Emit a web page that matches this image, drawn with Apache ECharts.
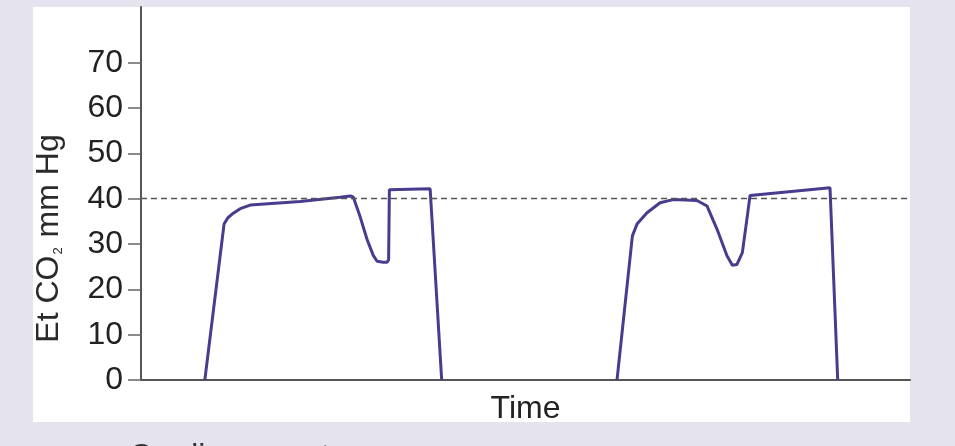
<!DOCTYPE html>
<html lang="en">
<head>
	<meta charset="UTF-8">
	<title>Et CO2</title>
	<script src="https://cdn.jsdelivr.net/npm/echarts@6/dist/echarts.min.js"></script>
	<style>
		html,body{margin:0;padding:0;background:#e4e3ee;}
		#chart{width:955px;height:446px;}
	</style>
</head>
<body>
<div id="chart"></div>
<script>
	// 时间轴 (任意单位 0-100)
	var timeA = [8.3, 10.8, 11.3, 12.0, 12.9, 14.2, 20.7, 25.9, 27.2, 27.6, 28.5, 29.4, 30.2, 30.7, 31.5, 32.0, 32.2, 32.3, 37.6, 39.1];
	var co2A  = [0, 34.4, 35.8, 36.8, 37.8, 38.6, 39.4, 40.3, 40.6, 40.4, 36.0, 31.0, 27.5, 26.2, 26.0, 26.0, 26.5, 42.0, 42.2, 0];
	var timeB = [61.9, 63.9, 64.5, 65.8, 67.5, 69.2, 72.3, 73.6, 74.9, 76.2, 76.9, 77.5, 78.2, 78.8, 79.2, 89.6, 90.6];
	var co2B  = [0, 31.8, 34.4, 36.9, 39.1, 39.8, 39.6, 38.4, 33.3, 27.4, 25.3, 25.5, 28.1, 35.6, 40.7, 42.4, 0];
	var yTicks = [0, 10, 20, 30, 40, 50, 60, 70];
	var refLevel = 40;

	function pairs(xs, ys){
		var out = [];
		for(var i=0;i<xs.length;i++){
			out.push([xs[i], ys[i]]);
		}
		return out;
	}

	var chart = echarts.init(document.getElementById('chart'));
	var lineColor = '#4a3b8e';
	var font = 'Liberation Sans, Arial, sans-serif';

	var option = {
		backgroundColor: '#e4e3ee',
		animation: false,
		graphic: [
			{
				type: 'rect',
				z: -10,
				shape: {x: 33, y: 7, width: 877, height: 415},
				style: {fill: '#ffffff'}
			},
			{
				// 下方说明文字, 只露出顶部
				type: 'text',
				left: 129,
				top: 441,
				style: {text: 'Cardiac arrest', font: '32px ' + font, fill: '#333'}
			}
		],
		grid: {left: 141, right: 45, top: 7, bottom: 66},
		xAxis: {
			type: 'value',
			min: 0,
			max: 100,
			name: 'Time',
			nameLocation: 'middle',
			nameGap: 13,
			nameTextStyle: {fontFamily: font, fontSize: 32, color: '#222', verticalAlign: 'top'},
			axisLine: {lineStyle: {color: '#555', width: 2}},
			axisTick: {show: false},
			axisLabel: {show: false},
			splitLine: {show: false}
		},
		yAxis: {
			type: 'value',
			min: 0,
			max: 82.3,
			name: '{a|Et CO}{s|2}{a| mm Hg}',
			nameLocation: 'middle',
			nameRotate: 90,
			nameGap: 76,
			nameTextStyle: {
				padding: [0, 90, 0, 0],
				rich: {
					a: {fontFamily: font, fontSize: 32, color: '#2a2a2a'},
					s: {fontFamily: font, fontSize: 13, color: '#2a2a2a', verticalAlign: 'bottom', padding: [0, 1, 0, 1]}
				}
			},
			axisLine: {show: true, lineStyle: {color: '#555', width: 2}},
			axisTick: {show: true, length: 13, customValues: yTicks, lineStyle: {color: '#666', width: 1.5}},
			axisLabel: {customValues: yTicks, margin: 18, fontFamily: font, fontSize: 32, color: '#222'},
			splitLine: {show: false}
		},
		series: [
			{
				type: 'line',
				data: pairs(timeA, co2A),
				symbol: 'none',
				lineStyle: {color: lineColor, width: 3},
				markLine: {
					silent: true,
					symbol: 'none',
					label: {show: false},
					lineStyle: {color: '#555', type: [6, 4], width: 1.3},
					data: [{yAxis: refLevel}]
				}
			},
			{
				type: 'line',
				data: pairs(timeB, co2B),
				symbol: 'none',
				lineStyle: {color: lineColor, width: 3}
			}
		]
	};
	chart.setOption(option);
</script>
</body>
</html>
